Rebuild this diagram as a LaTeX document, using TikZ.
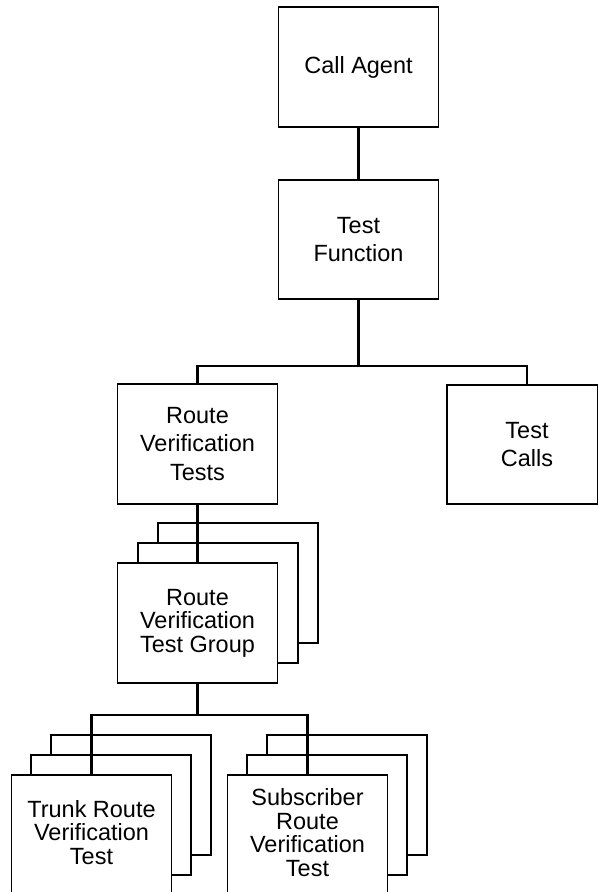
\documentclass[tikz,border=0pt]{standalone}
\usepackage{fontspec}
\setmainfont{Liberation Sans}
\usetikzlibrary{calc}
\begin{document}
\begin{tikzpicture}[x=0.75pt,y=-0.75pt,
  box/.style={draw, line width=0.9pt, fill=white, minimum width=120pt, minimum height=90pt,
    inner sep=0pt, align=center, font=\fontsize{17.6}{21.2}\selectfont},
  lowbox/.style={box, font=\fontsize{17.6}{17.6}\selectfont},
  conn/.style={line width=2pt}]
\useasboundingbox (0,0) rectangle (598,892);
\clip (0,0) rectangle (598,892);
% top level
\node[box] (ca) at (358.5,67) {Call Agent};
\node[box, minimum height=89.25pt] (tf) at (358.5,239.5) {Test\\Function};
\node[box] (rvt) at (197.5,444) {Route\\Verification\\Tests};
\node[box, minimum height=89.25pt] (tc) at (527,444.5) {Test\\Calls};
\coordinate (tcr) at (597.3,0);
\draw[line width=0.9pt] (tc.north west -| tcr) -- (tc.south west -| tcr);
% route verification test group stack
\node[lowbox] (rvtgb) at (238,583) {};
\node[lowbox] (rvtgm) at (218,603) {};
\node[lowbox] (rvtg) at (197.5,623) {Route\\Verification\\Test Group};
% trunk stack
\node[lowbox] (trb) at (131,795) {};
\node[lowbox] (trm) at (111,815) {};
\node[lowbox] (tr) at (91.5,835) {Trunk Route\\Verification\\Test\rule[-4pt]{0pt}{4pt}};
% subscriber stack
\node[lowbox] (sbb) at (347,795) {};
\node[lowbox] (sbm) at (327,815) {};
\node[lowbox] (sb) at (307.5,835) {Subscriber\\Route\\Verification\\Test\rule[-4pt]{0pt}{4pt}};
% connectors
\coordinate (b1) at (358.5,366);
\coordinate (b2) at (197.5,715);
\draw[conn] (ca.south) -- (tf.north);
\draw[conn] (tf.south) -- (b1);
\draw[conn] (rvt.north) |- (b1) -| (tc.north);
\draw[conn] (rvt.south) -- (rvtg.north);
\draw[conn] (rvtg.south) -- (b2);
\draw[conn] (tr.north) |- (b2) -| (sb.north);
\end{tikzpicture}
\end{document}
